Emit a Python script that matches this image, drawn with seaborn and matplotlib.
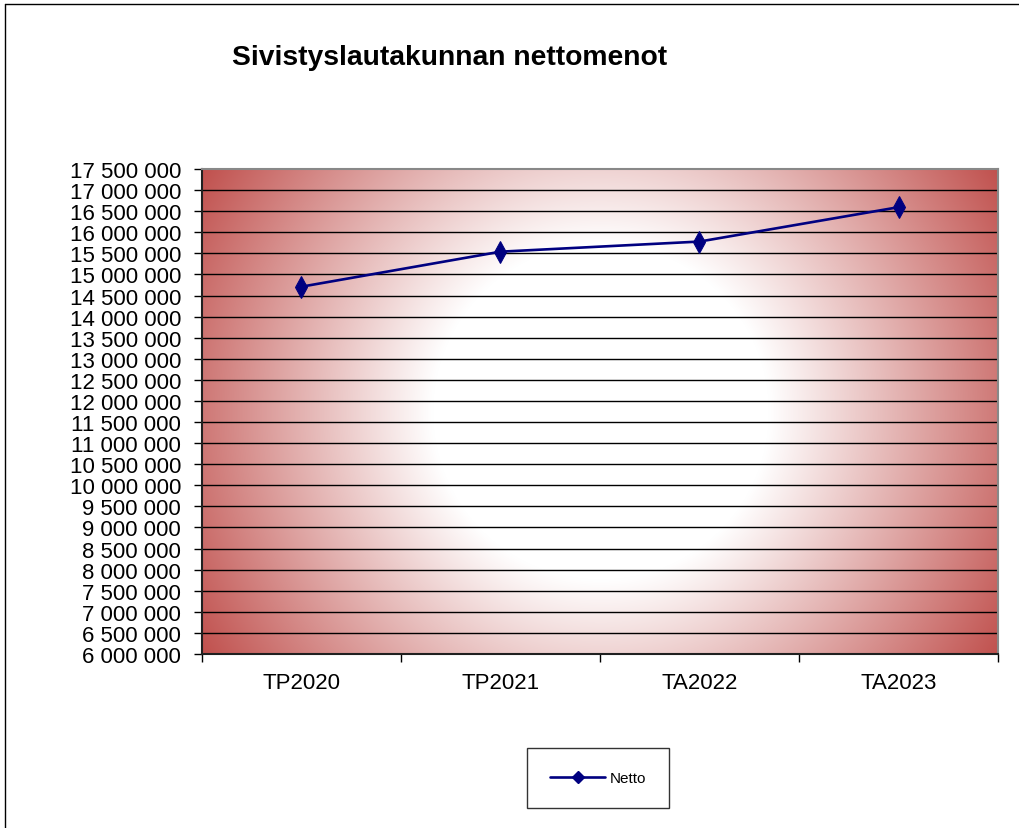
import matplotlib
matplotlib.use("Agg")
import matplotlib.pyplot as plt
import matplotlib.ticker as mticker
from matplotlib.lines import Line2D
import numpy as np
import pandas as pd
import seaborn as sns

# data
kaudet = ["TP2020", "TP2021", "TA2022", "TA2023"]
netto = [14710000, 15540000, 15780000, 16595000]
y_ticks = list(range(6000000, 17500001, 500000))

df = pd.DataFrame({"kausi": kaudet, "netto": netto})

sns.set_style("white")
plt.rcParams["font.family"] = ["Liberation Sans", "DejaVu Sans"]
plt.rcParams["text.color"] = "black"
plt.rcParams["xtick.color"] = "black"
plt.rcParams["ytick.color"] = "black"

fig = plt.figure(figsize=(10.19, 8.29), dpi=100)
ax = fig.add_axes([0.1982, 0.2099, 0.7812, 0.585])

# radial background: white core, red towards the corners
w_px, h_px = 796, 485
xx, yy = np.meshgrid(np.arange(w_px) - w_px / 2, np.arange(h_px) - h_px / 2)
d = np.sqrt(xx ** 2 + yy ** 2)
t = np.clip((d - 168) / (np.sqrt((w_px / 2) ** 2 + (h_px / 2) ** 2) - 168), 0, 1)
red = np.array([192, 80, 77]) / 255
img = (1 - t)[..., None] * np.ones(3) + t[..., None] * red
ax.imshow(img, extent=[0, 1, 0, 1], transform=ax.transAxes, aspect="auto", zorder=0)

sns.lineplot(data=df, x="kausi", y="netto", ax=ax, color="#000080", linewidth=1.9,
             marker="d", markersize=11, markeredgecolor="#000080", zorder=3, sort=False)

ax.set_xlim(-0.5, len(kaudet) - 0.5)
ax.set_ylim(y_ticks[0], y_ticks[-1])
ax.set_yticks(y_ticks)
ax.yaxis.set_major_formatter(mticker.FuncFormatter(lambda v, p: f"{int(v):,}".replace(",", " ")))
for y in y_ticks[1:-1]:
    ax.axhline(y, color="black", lw=1.0, zorder=1)

ax.set_xticks(np.arange(-0.5, len(kaudet), 1.0))
ax.set_xticklabels([])
ax.set_xticks(range(len(kaudet)), minor=True)
ax.set_xticklabels(kaudet, minor=True)
ax.tick_params(axis="x", which="major", direction="out", length=6, width=1, color="black", bottom=True)
ax.tick_params(axis="x", which="minor", length=0, labelsize=16, pad=13)
ax.tick_params(axis="y", direction="out", length=6, width=1, color="black", left=True,
               labelsize=16, pad=9)
ax.set_xlabel("")
ax.set_ylabel("")

ax.spines["left"].set_color("#202020")
ax.spines["bottom"].set_color("#202020")
ax.spines["top"].set_color("#888888")
ax.spines["right"].set_color("#888888")
for s in ax.spines.values():
    s.set_linewidth(1.5)
    s.set_visible(True)

fig.text(0.4416, 0.930, "Sivistyslautakunnan nettomenot", fontsize=20.3, fontweight="bold",
         ha="center", va="center", color="black")

handle = Line2D([], [], color="#000080", lw=1.9, marker="D", markersize=6)
leg = fig.legend([handle], ["Netto"], loc="center", bbox_to_anchor=(0.587, 0.0603),
                 fontsize=11, frameon=True, fancybox=False, edgecolor="black",
                 borderpad=1.5, handlelength=3.6, handletextpad=0.3, borderaxespad=0)
leg.get_frame().set_linewidth(1.0)
leg.get_frame().set_width(leg.get_frame().get_width())

# chart border (only top and left fall inside the picture)
fig.add_artist(Line2D([0.0045, 0.0045], [0, 0.9945], color="black", lw=1.0, transform=fig.transFigure))
fig.add_artist(Line2D([0.0045, 1], [0.9945, 0.9945], color="black", lw=1.0, transform=fig.transFigure))

fig.savefig("out.png", dpi=100)
